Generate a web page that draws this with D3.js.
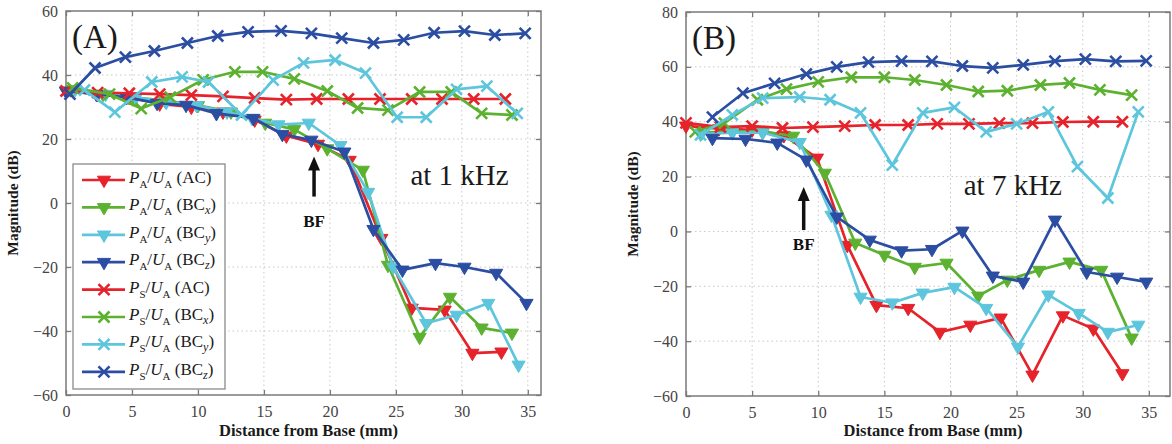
<!DOCTYPE html>
<html>
<head>
<meta charset="utf-8">
<script src="https://cdn.jsdelivr.net/npm/d3@7"></script>
<style>
  body { margin: 0; background: #fff; }
  svg { display: block; }
</style>
</head>
<body>
<svg id="chart" width="1172" height="444"></svg>
<script>
// series names (legend order)
const seriesNames = ["PA_AC", "PA_BCx", "PA_BCy", "PA_BCz", "PS_AC", "PS_BCx", "PS_BCy", "PS_BCz"];
const xTicks = [0, 5, 10, 15, 20, 25, 30, 35];
const yTicksA = [-60, -40, -20, 0, 20, 40, 60];
const yTicksB = [-60, -40, -20, 0, 20, 40, 60, 80];

// ---- panel A (1 kHz) ----
const aPaAcX  = [0, 2.4, 4.8, 7.1, 9.5, 11.9, 14.3, 16.7, 19.1, 21.5, 23.9, 26.2, 28.7, 30.8, 33.0];
const aPaAcY  = [35, 34, 33, 31, 30, 28.5, 26, 21, 18.4, 13.4, -11, -32.8, -33.4, -46.9, -46.5];
const aPaBcxX = [0.5, 2.8, 5.1, 7.5, 10.0, 12.5, 15.1, 17.3, 19.8, 22.5, 24.4, 26.8, 29.1, 31.5, 33.8];
const aPaBcxY = [35.5, 34, 33, 32, 30.5, 28.5, 25, 23, 17, 10.3, -19.4, -41.9, -29.4, -39, -40.6];
const aPaBcyX = [0.7, 3.0, 5.3, 7.6, 9.9, 12.2, 14.1, 16.1, 18.4, 20.8, 22.9, 24.8, 27.3, 29.6, 32.0, 34.3];
const aPaBcyY = [35.5, 34, 33, 31.5, 30.5, 28.5, 26.5, 24.5, 25, 18, 3.4, -20, -37.6, -35, -31.3, -50.6];
const aPaBczX = [0, 2.3, 4.6, 6.9, 9.1, 11.4, 14.2, 16.4, 18.6, 21.1, 23.3, 25.5, 28.0, 30.2, 32.6, 34.9];
const aPaBczY = [35, 34, 33, 31.2, 30.6, 28, 26.5, 21.5, 19.7, 16, -8.2, -20.9, -18.8, -20, -21.9, -31.3];
const aPsAcX  = [0, 2.4, 4.8, 7.1, 9.5, 11.9, 14.3, 16.7, 19.0, 21.4, 23.8, 26.2, 28.5, 30.9, 33.3];
const aPsAcY  = [35, 34.5, 34.3, 34, 33.7, 33.3, 32.8, 32.3, 32.5, 32.5, 32.5, 32.5, 32.5, 32.5, 32.5];
const aPsBcxX = [0.5, 3.3, 5.7, 7.9, 10.4, 12.8, 14.9, 17.3, 19.8, 22.1, 24.4, 26.8, 29.2, 31.5, 33.8];
const aPsBcxY = [36, 34, 29.5, 33.1, 38.5, 41, 41, 38.8, 35, 29.7, 29, 34.7, 34.7, 28, 27.5];
const aPsBcyX = [1.4, 3.7, 6.5, 8.8, 10.8, 13.3, 15.7, 18.0, 20.4, 22.7, 25.1, 27.3, 29.6, 31.9, 34.2];
const aPsBcyY = [35.3, 28.4, 37.8, 39.4, 37.8, 27.5, 38.4, 43.8, 44.7, 40.6, 26.8, 26.8, 35.5, 36.5, 28];
const aPsBczX = [0.3, 2.2, 4.5, 6.7, 9.2, 11.5, 13.8, 16.3, 18.6, 20.9, 23.3, 25.6, 27.9, 30.2, 32.5, 34.8];
const aPsBczY = [34, 42.2, 45.6, 47.5, 50, 52.2, 53.5, 53.8, 53, 51.5, 50, 51, 53.2, 53.7, 52.5, 53];

// ---- panel B (7 kHz) ----
const bPaAcX  = [0, 2.5, 5.0, 7.4, 9.9, 12.2, 14.4, 16.8, 19.2, 21.5, 23.8, 26.2, 28.5, 30.8, 33.0];
const bPaAcY  = [38.5, 37.5, 37, 35, 26.8, -5, -26.9, -28, -36.7, -34.1, -31.5, -52.3, -30.7, -35.5, -51.8];
const bPaBcxX = [1.2, 3.5, 5.8, 8.1, 10.5, 12.8, 15.0, 17.3, 19.7, 22.1, 24.3, 26.7, 29.0, 31.4, 33.7];
const bPaBcxY = [36, 36.5, 36.5, 34.8, 21.3, -4.2, -8.6, -13, -11.5, -23.5, -17.7, -14.1, -11.1, -14.1, -38.8];
const bPaBcyX = [1.1, 3.5, 5.8, 8.6, 11.0, 13.2, 15.6, 17.9, 20.3, 22.7, 25.1, 27.4, 29.7, 31.9, 34.2];
const bPaBcyY = [35.5, 36, 36, 32.5, 6, -23.9, -26, -22.4, -20.3, -28, -42.1, -23.1, -29.8, -36.7, -34.1];
const bPaBczX = [2.0, 4.5, 6.9, 9.1, 11.4, 13.9, 16.3, 18.6, 20.9, 23.2, 25.5, 27.9, 30.3, 32.6, 34.8];
const bPaBczY = [34, 33.7, 32.3, 26.1, 5.3, -3.1, -7, -6.5, 0.2, -16.2, -18.4, 4.2, -14.8, -16.6, -18.4];
const bPsAcX  = [0, 2.6, 5.0, 7.3, 9.6, 12.0, 14.3, 16.8, 19.0, 21.4, 23.7, 26.2, 28.5, 30.8, 33.0];
const bPsAcY  = [39.6, 38, 38.4, 37.7, 38, 38.4, 38.8, 38.8, 39.2, 39.2, 39.5, 39.5, 39.9, 40, 40];
const bPsBcxX = [0.7, 2.9, 5.4, 7.6, 10.0, 12.5, 15.0, 17.3, 19.7, 22.1, 24.3, 26.8, 29.0, 31.3, 33.7];
const bPsBcxY = [36.3, 39.5, 48, 51.9, 54.5, 56.2, 56.2, 55.2, 53.4, 51, 51.3, 53.4, 54.1, 51.6, 49.7];
const bPsBcyX = [1.1, 3.5, 5.8, 8.6, 10.9, 13.2, 15.6, 17.9, 20.3, 22.7, 25.0, 27.4, 29.6, 31.9, 34.2];
const bPsBcyY = [35.2, 42.5, 48.6, 49, 48, 43.2, 24.2, 43.2, 45.2, 36.3, 39.2, 43.6, 23.6, 12.2, 43.6];
const bPsBczX = [2.0, 4.3, 6.7, 9.1, 11.4, 13.8, 16.3, 18.6, 20.9, 23.2, 25.5, 27.9, 30.2, 32.5, 34.8];
const bPsBczY = [41.7, 50.4, 54, 57.4, 60, 61.7, 62.1, 62, 60.3, 59.6, 60.7, 62.1, 62.8, 62, 62.2];

// colours per excitation
const colAC = "#e6222b", colBCx = "#5cb230", colBCy = "#5ec6dc", colBCz = "#2b4da2";

const serif = "'Liberation Serif', 'DejaVu Serif', serif";
const svg = d3.select("#chart");

function zip(xs, ys) { return xs.map((x, i) => [x, ys[i]]); }

function makeSeries(pre) {
  // pre holds the x/y arrays above for one panel, in legend order
  return [
    { name: "PA_AC",  color: colAC,  marker: "tri", pts: zip(pre[0], pre[1]) },
    { name: "PA_BCx", color: colBCx, marker: "tri", pts: zip(pre[2], pre[3]) },
    { name: "PA_BCy", color: colBCy, marker: "tri", pts: zip(pre[4], pre[5]) },
    { name: "PA_BCz", color: colBCz, marker: "tri", pts: zip(pre[6], pre[7]) },
    { name: "PS_AC",  color: colAC,  marker: "x",   pts: zip(pre[8], pre[9]) },
    { name: "PS_BCx", color: colBCx, marker: "x",   pts: zip(pre[10], pre[11]) },
    { name: "PS_BCy", color: colBCy, marker: "x",   pts: zip(pre[12], pre[13]) },
    { name: "PS_BCz", color: colBCz, marker: "x",   pts: zip(pre[14], pre[15]) }
  ];
}

const seriesA = makeSeries([aPaAcX, aPaAcY, aPaBcxX, aPaBcxY, aPaBcyX, aPaBcyY, aPaBczX, aPaBczY,
                            aPsAcX, aPsAcY, aPsBcxX, aPsBcxY, aPsBcyX, aPsBcyY, aPsBczX, aPsBczY]);
const seriesB = makeSeries([bPaAcX, bPaAcY, bPaBcxX, bPaBcxY, bPaBcyX, bPaBcyY, bPaBczX, bPaBczY,
                            bPsAcX, bPsAcY, bPsBcxX, bPsBcxY, bPsBcyX, bPsBcyY, bPsBczX, bPsBczY]);

const triPath = d3.symbol().type(d3.symbolTriangle).size(75)();

/**
 * draw a marker at (0,0) into group g
 */
function drawMarker(g, kind, color) {
  if (kind == "tri") {
    g.append("path").attr("d", triPath).attr("transform", "rotate(180)")
      .attr("fill", color).attr("stroke", color).attr("stroke-width", 1);
  } else {
    const r = 5.5;
    g.append("path").attr("d", `M${-r},${-r}L${r},${r}M${-r},${r}L${r},${-r}`)
      .attr("stroke", color).attr("stroke-width", 2.6).attr("fill", "none");
  }
}

/**
 * draw one panel
 */
function drawPanel(p) {
  const x = d3.scaleLinear().domain(p.xDomain).range([p.left, p.right]);
  const y = d3.scaleLinear().domain(p.yDomain).range([p.bottom, p.top]);
  const g = svg.append("g");

  // dotted grid
  const grid = g.append("g").attr("stroke", "#c8c8c8").attr("stroke-width", 1)
    .attr("stroke-dasharray", "1.5,3");
  xTicks.filter(t => t > p.xDomain[0]).forEach(t => {
    grid.append("line").attr("x1", x(t)).attr("x2", x(t)).attr("y1", p.top).attr("y2", p.bottom);
  });
  p.yTicks.filter(t => t > p.yDomain[0] && t < p.yDomain[1]).forEach(t => {
    grid.append("line").attr("x1", p.left).attr("x2", p.right).attr("y1", y(t)).attr("y2", y(t));
  });

  // axes with inner ticks
  const axStyle = sel => {
    sel.select(".domain").remove();
    sel.selectAll("line").attr("stroke", "#7a7a7a").attr("stroke-width", 1.3);
    sel.selectAll("text").attr("font-family", serif).attr("font-size", 16).attr("fill", "#444");
  };
  g.append("g").attr("transform", `translate(0,${p.bottom})`)
    .call(d3.axisBottom(x).tickValues(xTicks).tickSize(-5).tickPadding(11).tickFormat(d3.format("d")))
    .call(axStyle);
  g.append("g").attr("transform", `translate(0,${p.top})`)
    .call(d3.axisTop(x).tickValues(xTicks).tickSize(-5).tickFormat(""))
    .call(axStyle);
  g.append("g").attr("transform", `translate(${p.left},0)`)
    .call(d3.axisLeft(y).tickValues(p.yTicks).tickSize(-5).tickPadding(8).tickFormat(d => d < 0 ? "\u2212" + (-d) : d))
    .call(axStyle);
  g.append("g").attr("transform", `translate(${p.right},0)`)
    .call(d3.axisRight(y).tickValues(p.yTicks).tickSize(-5).tickFormat(""))
    .call(axStyle);

  // frame
  g.append("rect").attr("x", p.left).attr("y", p.top)
    .attr("width", p.right - p.left).attr("height", p.bottom - p.top)
    .attr("fill", "none").attr("stroke", "#7a7a7a").attr("stroke-width", 1.5);

  // series
  const line = d3.line().x(d => x(d[0])).y(d => y(d[1]));
  p.series.forEach(s => {
    const sg = g.append("g");
    sg.append("path").attr("d", line(s.pts)).attr("fill", "none")
      .attr("stroke", s.color).attr("stroke-width", 2.7).attr("stroke-linejoin", "round");
    s.pts.forEach(d => {
      const m = sg.append("g").attr("transform", `translate(${x(d[0])},${y(d[1])})`);
      drawMarker(m, s.marker, s.color);
    });
  });

  // panel letter and frequency
  g.append("text").attr("x", p.left + 6).attr("y", p.top + 37)
    .attr("font-family", serif).attr("font-size", 33).attr("fill", "#1a1a1a").text(p.letter);
  g.append("text").attr("x", x(p.freqPos[0])).attr("y", y(p.freqPos[1]))
    .attr("font-family", serif).attr("font-size", 29).attr("fill", "#1a1a1a").text(p.freq);

  // BF arrow
  const ax = x(p.bf[0]);
  const arrow = g.append("g");
  arrow.append("line").attr("x1", ax).attr("x2", ax).attr("y1", y(p.bf[1]) + 8).attr("y2", y(p.bf[2]))
    .attr("stroke", "#111").attr("stroke-width", 3.5);
  arrow.append("path")
    .attr("d", `M${ax},${y(p.bf[1])}L${ax - 6},${y(p.bf[1]) + 14}L${ax + 6},${y(p.bf[1]) + 14}Z`)
    .attr("fill", "#111");
  g.append("text").attr("x", ax).attr("y", y(p.bf[2]) + p.bfGap).attr("text-anchor", "middle")
    .attr("font-family", serif).attr("font-weight", "bold").attr("font-size", 17).attr("fill", "#111").text("BF");

  // axis titles
  g.append("text").attr("x", (p.left + p.right) / 2 + 5).attr("y", 436).attr("text-anchor", "middle")
    .attr("font-family", serif).attr("font-weight", "bold").attr("font-size", 16.5).attr("fill", "#1a1a1a")
    .text("Distance from Base (mm)");
  g.append("text").attr("transform", `translate(${p.left - 48},${(p.top + p.bottom) / 2}) rotate(-90)`)
    .attr("text-anchor", "middle")
    .attr("font-family", serif).attr("font-weight", "bold").attr("font-size", 15.5).attr("fill", "#1a1a1a")
    .text("Magnitude (dB)");

  if (p.legend) drawLegend(g, p.series);
}

/**
 * legend box in panel A
 */
function drawLegend(g, series) {
  const lx = 73, ly = 164, lw = 152, lh = 225, step = 27.4;
  g.append("rect").attr("x", lx).attr("y", ly).attr("width", lw).attr("height", lh)
    .attr("fill", "#fff").attr("stroke", "#8a8a8a").attr("stroke-width", 1.3);
  series.forEach((s, i) => {
    const cy = ly + 16 + i * step;
    g.append("line").attr("x1", lx + 9).attr("x2", lx + 52).attr("y1", cy).attr("y2", cy)
      .attr("stroke", s.color).attr("stroke-width", 2.7);
    drawMarker(g.append("g").attr("transform", `translate(${lx + 31},${cy})`), s.marker, s.color);

    const t = g.append("text").attr("x", lx + 56).attr("y", cy + 3)
      .attr("font-family", serif).attr("font-size", 17).attr("fill", "#1a1a1a");
    const num = s.name.startsWith("PA") ? "A" : "S";
    t.append("tspan").attr("font-style", "italic").text("P");
    t.append("tspan").attr("font-size", 11).attr("dy", 5).text(num);
    t.append("tspan").attr("dy", -5).text("/");
    t.append("tspan").attr("font-style", "italic").text("U");
    t.append("tspan").attr("font-size", 11).attr("dy", 5).text("A");
    const exc = s.name.split("_")[1];
    if (exc == "AC") {
      t.append("tspan").attr("dy", -5).text(" (AC)");
    } else {
      t.append("tspan").attr("dy", -5).text(" (BC");
      t.append("tspan").attr("font-size", 12).attr("font-style", "italic").attr("dy", 4).text(exc[2]);
      t.append("tspan").attr("dy", -4).text(")");
    }
  });
}

drawPanel({
  left: 66, right: 541, top: 11, bottom: 395,
  xDomain: [0, 36], yDomain: [-60, 60], yTicks: yTicksA,
  series: seriesA, letter: "(A)", freq: "at 1 kHz", freqPos: [26.1, 5.6],
  bf: [18.8, 14.5, 2], bfGap: 30, legend: true
});

drawPanel({
  left: 686, right: 1170, top: 12, bottom: 396,
  xDomain: [0, 36.6], yDomain: [-60, 80], yTicks: yTicksB,
  series: seriesB, letter: "(B)", freq: "at 7 kHz", freqPos: [21, 13.3],
  bf: [8.9, 16.2, 0.5], bfGap: 20, legend: false
});
</script>
</body>
</html>
